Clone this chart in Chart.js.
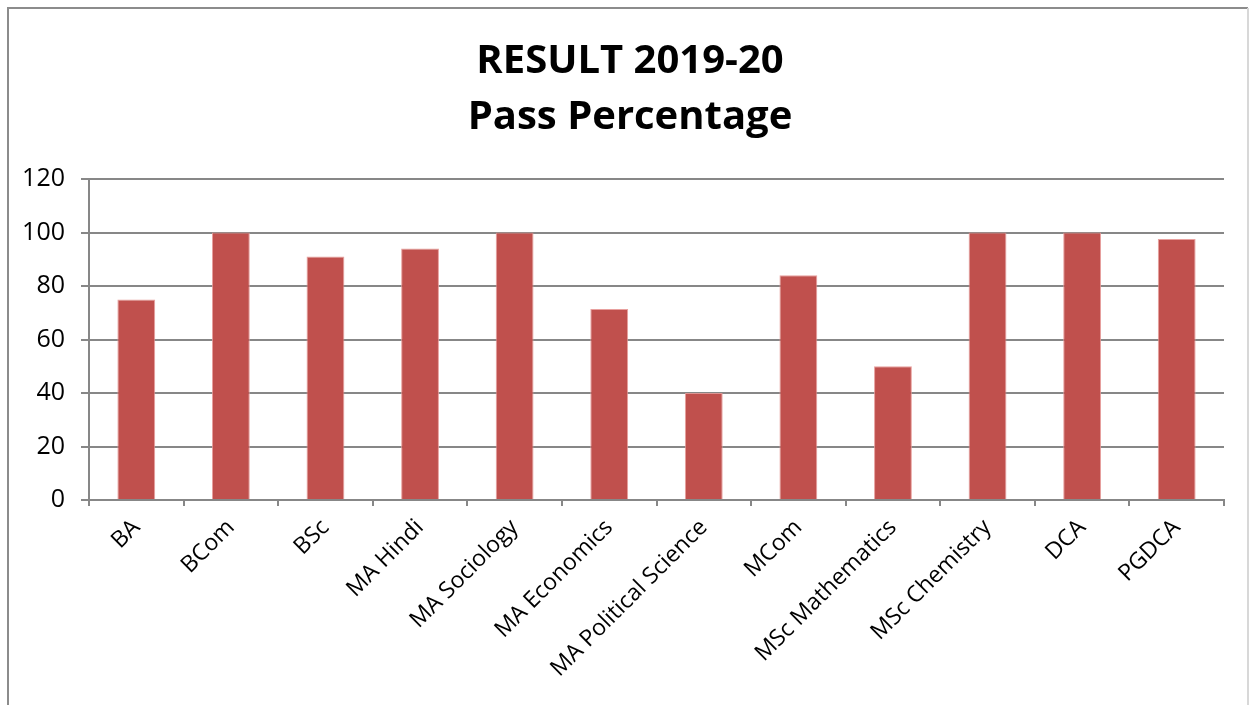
<!DOCTYPE html>
<html>
<head>
<meta charset="utf-8">
<script src="https://cdn.jsdelivr.net/npm/chart.js@4"></script>
<style>
  html, body { margin: 0; padding: 0; background: #fff; }
  #wrap { width: 1253px; height: 705px; }
</style>
</head>
<body>
<div id="wrap"><canvas id="resultChart" width="1253" height="705"></canvas></div>
<script>
// Pass percentage per course
const courses = ["BA", "BCom", "BSc", "MA Hindi", "MA Sociology", "MA Economics",
    "MA Political Science", "MCom", "MSc Mathematics", "MSc Chemistry", "DCA", "PGDCA"];
const passPct = [75, 100, 91, 94, 100, 71.4, 40, 84, 50, 100, 100, 97.6];
const titleLines = ["RESULT 2019-20", "Pass Percentage"];
const yMin = 0, yMax = 120, yStep = 20;

const fontFamily = "'Open Sans', Lato, sans-serif";
const axisGrey = "#878787";

// outer frame like the spreadsheet chart box, plus the title centred on it
const frame = {
    id: "frame",
    beforeDraw(chart) {
        const c = chart.ctx;
        c.save();
        c.fillStyle = "#fff";
        c.fillRect(0, 0, chart.width, chart.height);
        c.lineWidth = 2;
        c.strokeStyle = "#8c8c8c";
        c.beginPath();
        c.moveTo(8, 720); c.lineTo(8, 8); c.lineTo(1248, 8);
        c.stroke();
        c.strokeStyle = "#d8d8d8";
        c.beginPath();
        c.moveTo(1248, 8); c.lineTo(1248, 720);
        c.stroke();

        c.fillStyle = "#000";
        c.font = "bold 40px " + fontFamily;
        c.textAlign = "center";
        c.textBaseline = "middle";
        titleLines.forEach((line, i) => c.fillText(line, 630, 62 + i * 56));
        c.restore();
    }
};

new Chart(document.getElementById("resultChart"), {
    type: "bar",
    data: {
        labels: courses,
        datasets: [{
            label: "Pass Percentage",
            data: passPct,
            backgroundColor: "#C0504D",
            borderColor: "rgba(230,150,148,0.9)",
            borderWidth: 1,
            categoryPercentage: 1.0,
            barPercentage: 0.4
        }]
    },
    options: {
        responsive: false,
        animation: false,
        layout: { padding: { left: 0, right: 29, top: 179, bottom: 0 } },
        plugins: {
            legend: { display: false },
            tooltip: { enabled: false },
            title: { display: false }
        },
        scales: {
            x: {
                grid: {
                    offset: true,
                    drawOnChartArea: false,
                    drawTicks: true,
                    tickLength: 6,
                    color: axisGrey,
                    lineWidth: 2
                },
                border: { color: axisGrey, width: 2 },
                ticks: {
                    minRotation: 45,
                    maxRotation: 45,
                    color: "#000",
                    padding: 8,
                    font: { family: fontFamily, size: 23 }
                },
                afterFit(scale) { scale.height = 205; }
            },
            y: {
                min: yMin,
                max: yMax,
                ticks: {
                    stepSize: yStep,
                    color: "#000",
                    padding: 16,
                    font: { family: fontFamily, size: 25 }
                },
                grid: {
                    color: axisGrey,
                    lineWidth: 2,
                    tickLength: 8
                },
                border: { color: axisGrey, width: 2 },
                afterFit(scale) { scale.width = 89; }
            }
        }
    },
    plugins: [frame]
});
</script>
</body>
</html>
